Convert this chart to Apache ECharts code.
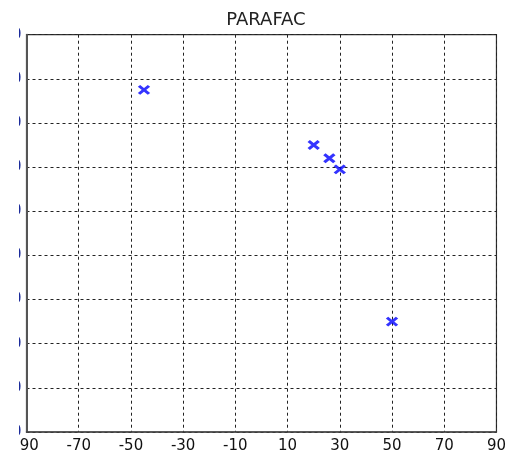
<!DOCTYPE html>
<html>
<head>
<meta charset="utf-8">
<script src="https://cdn.jsdelivr.net/npm/echarts@6/dist/echarts.min.js"></script>
<style>
  html, body { margin: 0; padding: 0; background: #fff; width: 509px; height: 454px; overflow: hidden; }
  /* the figure is cropped on its left edge, so the y labels only peek in */
  #crop { position: absolute; left: 19px; top: 0; width: 490px; height: 454px; overflow: hidden; background: #fff; }
  #chart { position: absolute; left: -49px; top: 0; width: 539px; height: 454px; }
</style>
</head>
<body>
<div id="crop"><div id="chart"></div></div>
<script>
// PARAFAC scores
const titleText = 'PARAFAC';
const pointX = [-45, 20, 26, 30, 50];
const pointY = [65, 40, 34, 29, -40];
const axisMin = -90;
const axisMax = 90;
const axisStep = 20;

const points = pointX.map((x, i) => [x, pointY[i]]);

const font = 'DejaVu Sans';
const chart = echarts.init(document.getElementById('chart'), null, { renderer: 'canvas' });

const gridLine = { show: true, lineStyle: { color: '#222', width: 1, type: [3, 3] } };

chart.setOption({
  animation: false,
  backgroundColor: '#fff',
  title: {
    text: titleText,
    left: 291,
    top: 6,
    textAlign: 'center',
    textStyle: { fontFamily: font, fontSize: 18, fontWeight: 'normal', color: '#222' }
  },
  grid: {
    left: 56.5, right: 10.3, top: 34.7, bottom: 21.3,
    show: true, borderColor: '#333', borderWidth: 1.2, backgroundColor: '#fff'
  },
  xAxis: {
    type: 'value',
    min: axisMin, max: axisMax, interval: axisStep,
    axisLine: { show: true, onZero: false, lineStyle: { color: '#444', width: 1.5 } },
    axisTick: { show: false },
    splitLine: gridLine,
    axisLabel: { margin: 7, fontFamily: font, fontSize: 15, color: '#111', showMinLabel: true, showMaxLabel: true }
  },
  yAxis: {
    type: 'value',
    min: axisMin, max: axisMax, interval: axisStep,
    axisLine: { show: true, onZero: false, lineStyle: { color: '#555', width: 2 } },
    axisTick: { show: false },
    splitLine: gridLine,
    axisLabel: { margin: 5, fontFamily: font, fontSize: 15, color: '#1a2a9a', showMinLabel: true, showMaxLabel: true }
  },
  series: [{
    type: 'scatter',
    data: points,
    // stroked "x" marker
    symbol: 'path://M0,0 L10,10 M10,0 L0,10',
    symbolSize: [10, 8],
    itemStyle: { color: 'none', borderColor: '#0000ff', borderWidth: 3 },
    z: 5
  }]
});
</script>
</body>
</html>
